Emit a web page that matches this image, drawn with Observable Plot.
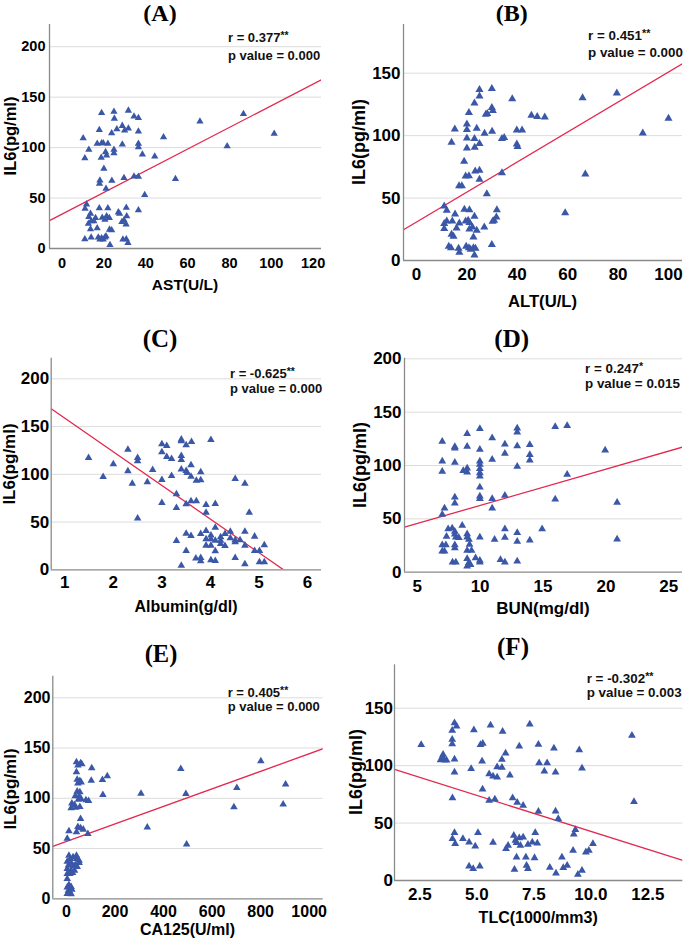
<!DOCTYPE html>
<html><head><meta charset="utf-8">
<script src="https://cdn.jsdelivr.net/npm/d3@7"></script>
<script src="https://cdn.jsdelivr.net/npm/@observablehq/plot@0.6"></script>
<style>
body{margin:0;background:#fff;}
#root{position:relative;width:685px;height:941px;overflow:hidden;font-family:"Liberation Sans",Arial,sans-serif;color:#000;}
.title{position:absolute;font-family:"Liberation Serif","Times New Roman",serif;font-weight:bold;transform:translate(-50%,-50%);white-space:nowrap;line-height:1;}
.xlab{position:absolute;font-weight:bold;transform:translate(-50%,-50%);white-space:nowrap;line-height:1;}
.ylab{position:absolute;font-weight:bold;transform:translate(-50%,-50%) rotate(-90deg);white-space:nowrap;line-height:1;}
.ann{position:absolute;font-weight:bold;transform:translateY(-50%);white-space:nowrap;line-height:1;color:#111;}
.st{font-size:0.8em;vertical-align:0.25em;}
</style></head>
<body><div id="root"></div>
<script>
// ---- data ----
const astPoints = [[18.9,134.4],[24.8,135.7],[31.7,136.7],[34.4,130.8],[36.5,129.5],[25,128.8],[28.8,121.6],[26.2,118.3],[31.7,119],[17.8,117.6],[29.9,117],[23.7,114.3],[36.5,116],[10.1,109.4],[16.8,103.8],[18.9,104.4],[21.9,103.8],[19.7,104.4],[28.8,103.1],[36.5,103.8],[36.5,100.5],[12.8,97.9],[24.8,97.9],[24.8,94.6],[20.8,95.6],[38.4,93.2],[21.3,92.3],[18.7,90],[10.9,89.6],[44.3,91.3],[20,79.1],[18.1,67.5],[17.9,64.3],[23.8,67.2],[29.6,69.9],[34.4,71.5],[36.5,71.2],[21,59.3],[39.5,53],[48.5,110.4],[54.2,68.9],[65.9,125.9],[78.9,101.5],[86.7,133.4],[101.4,113.7],[11.7,43.8],[11,39.5],[13.6,34.6],[17.8,39.9],[21.9,39.9],[30.7,40.5],[26.9,35.9],[27.5,34.6],[12.8,31.3],[16,30.3],[19.2,30.6],[21.3,32],[22.6,30.3],[20.5,28.7],[30.9,32],[29.6,28],[13.9,27],[15.2,27],[28.6,26.4],[30.6,24],[12.6,24.7],[36.5,37.9],[16.8,20.1],[13.6,19.1],[22.7,18.8],[23.7,18.1],[10.9,9.2],[13.9,10.9],[17.3,10.9],[18.1,8.9],[19.7,8.9],[20.5,10.9],[21,12.2],[29.1,8.9],[30.7,9.2],[31.5,5.6],[22.9,3.6],[18.9,10.2]];
const altPoints = [[29.9,137.6],[25,136.8],[25,131.7],[23,126],[38,129.5],[65.9,130.3],[79.5,134.1],[29.9,122.3],[30.3,119.9],[27.5,117],[28.1,117.5],[20.8,118.3],[45.6,116.2],[47.9,115.1],[50.9,114.8],[100,113.8],[20,109.2],[15.2,105.2],[20,104.7],[23.9,105.8],[30,103.4],[27,101.8],[39.8,104.4],[41.9,104.4],[89.8,102],[33.9,97.5],[34.8,98.3],[20,98],[23,97.5],[25,93.5],[13.9,94.6],[39.8,93.2],[40.1,91.1],[20,90],[23.1,90.5],[18.9,79.3],[19.5,67.6],[20.8,67.8],[23.3,71.6],[25,72.1],[33.9,70.2],[67,69.2],[25,64.9],[16.9,59.8],[18,59.8],[27.9,53.4],[11,43.5],[12,40.1],[19,40.9],[21,40.6],[31.9,40.6],[59,38.2],[15.3,37.1],[23,35.3],[31.7,34.7],[30.8,32.1],[30.2,31.3],[12,31.5],[14.2,31.5],[19.5,31.5],[20.5,32.1],[11,29.4],[17,29.9],[21,30.2],[22.2,26.7],[26.9,26.7],[11,25.4],[15.9,25.9],[21,25.1],[23.9,24],[13.9,20.8],[14.7,19.2],[22.6,18.7],[12.8,11.2],[13.7,10.1],[16.7,9.6],[17,6.4],[19.7,11.2],[20.8,10.1],[21.5,8.8],[22.6,10.1],[23.4,9.6],[23,4.3],[29.9,12.6]];
const albuminPoints = [[1.49,117.3],[1.79,97.4],[2.0,110.6],[2.30,126],[2.30,103.3],[2.50,117.3],[2.50,113.8],[2.39,90.4],[2.70,91.8],[2.81,104.7],[2.50,53.8],[3.0,131.6],[3.10,129.8],[3.0,123.2],[3.10,118.3],[3.20,116.2],[3.0,94.2],[3.20,98.4],[3.0,70.2],[3.30,79.2],[3.30,64.9],[3.30,30.4],[3.40,136.5],[3.40,134.7],[3.61,134],[3.50,130.5],[4.01,136.1],[3.40,119.4],[3.40,115.2],[3.40,105.1],[3.50,103.7],[3.52,101.6],[3.60,109.6],[3.80,102.3],[3.60,97.7],[3.71,93.5],[3.80,93.9],[3.60,71.9],[3.71,71.9],[3.50,68.8],[3.91,68.1],[4.10,69.1],[3.91,60],[4.51,95.3],[4.71,90.4],[4.80,60],[3.50,38],[3.60,35.6],[3.50,19.9],[3.40,4.5],[3.70,11.9],[3.80,12.6],[3.80,9.1],[4.01,10.1],[4.10,9.4],[3.91,40.8],[4.10,44.3],[4.01,36],[4.01,32.1],[3.91,32.1],[3.91,25.5],[4.01,25.5],[4.10,30.7],[4.21,30.7],[4.21,34.2],[4.10,19.5],[4.30,25.1],[4.30,37.7],[4.41,40.1],[4.41,33.2],[4.51,29],[4.51,31.1],[4.61,31.1],[4.71,40.1],[4.71,25.5],[4.51,12.6],[4.71,5.9],[4.91,34.9],[4.91,19.9],[5.01,19.9],[5.11,25.8],[5.01,8.0],[5.11,8.0],[4.21,27.2],[3.80,37.7]];
const bunPoints = [[6.99,122.5],[6.99,104.1],[6.99,94.4],[7.99,117.5],[7.99,116.3],[7.99,102.8],[8.97,129.7],[8.97,117.8],[8.66,95],[8.97,97.5],[8.97,93.8],[9.98,134.4],[9.98,115],[9.98,104.1],[9.98,100.9],[9.98,96.9],[9.98,93.1],[9.98,90],[9.98,79.7],[9.98,71.3],[9.98,68.8],[10.96,125.9],[10.96,105.6],[10.96,68.8],[10.96,60],[11.97,120],[11.97,111.3],[11.97,71.9],[12.95,135],[12.95,131.3],[12.95,118.4],[12.95,99.1],[13.95,119.4],[13.95,110],[13.95,105],[15.97,136.3],[16.92,137.2],[16.92,91.6],[15.97,68.4],[19.94,114.4],[20.89,65.3],[20.89,30.9],[14.93,40.6],[13.95,30],[12.95,36.9],[12.95,28.8],[12.95,10.3],[11.97,40.6],[11.97,32.5],[11.97,9.4],[11.62,11.6],[11.15,30.6],[9.98,32.8],[9.98,10.9],[9.64,13.4],[9.98,9.4],[6.99,54],[7.17,60],[7.99,70.3],[7.99,64.7],[7.46,40.6],[7.78,41.3],[7.99,38.1],[7.99,35.6],[8.07,32.8],[8.31,32.2],[8.58,43.8],[8.97,35.9],[8.97,32.8],[9.11,30.6],[7.33,33.4],[6.99,25.6],[7.28,25.6],[7.99,25.6],[7.99,22.8],[6.99,19.7],[7.17,19.7],[9.16,25.9],[8.97,20.3],[9.32,20.3],[7.81,9.4],[8.07,9.4],[8.97,12.5],[8.97,5.6],[9.24,6.9],[9.11,8.8]];
const ca125Points = [[41,136],[58,135],[47,132.7],[63,134],[41,126],[44,118.7],[55,117.4],[47,114.8],[60,116],[44,106.8],[55,106.1],[36,102.2],[52,102.2],[49,98.8],[60,99.5],[22,94.9],[33,93.5],[19,90.2],[38,90.9],[55,91.5],[80,98.2],[91,97.5],[104,130],[102,117.7],[148,118.4],[168,122],[150,103.5],[58,79.6],[47,71.6],[58,70.3],[69,69],[41,66.3],[88,64.7],[10,67.3],[3,60],[307,104.8],[333,71],[471,129.4],[492,104.5],[495,54.1],[690,91.2],[702,110.4],[801,137],[893,93.9],[903,113.8],[10,43.1],[16,39.8],[27,41.5],[41,39.8],[3,37.1],[19,35.8],[52,38.1],[52,35.8],[8,33.2],[27,32.5],[44,31.8],[3,29.9],[19,28.2],[33,28.2],[3,24.9],[14,24.9],[25,25.9],[3,19.9],[10,13.9],[19,11.9],[3,11.3],[8,8.3],[22,9.3],[14,6.6],[3,5],[19,4.6],[36,33.8],[41,43.1]];
const tlcPoints = [[2.56,118.1],[3.52,109.7],[3.41,105],[3.58,105],[3.48,107.3],[3.67,104.7],[4.02,137.2],[4.11,134.3],[3.92,130.5],[3.92,122.7],[3.92,118.9],[4.02,105.6],[4.02,94.3],[3.93,71.9],[4.87,131.1],[5.16,118.1],[5.26,119.2],[5.23,103.9],[4.75,97.2],[5.25,79.5],[5.60,135.2],[5.54,92.8],[5.71,90.8],[5.89,89.9],[5.89,98.9],[6.10,98.3],[6.10,105.3],[6.13,129.7],[6.26,110.8],[6.45,91.7],[5.54,69.6],[5.79,70.8],[6.86,116.9],[7.32,136.1],[7.70,118.4],[7.73,102.4],[8.08,102.4],[7.96,95.2],[8.38,115.2],[8.45,94.3],[9.49,113.7],[9.61,97.8],[11.80,126.2],[11.89,68.5],[6.57,71.9],[6.77,67.9],[7.03,65.3],[7.70,60.1],[8.45,60.3],[8.57,53.7],[3.93,36.3],[4.02,41.5],[4.05,31.9],[4.39,36.3],[4.66,33.4],[4.93,29.9],[5.05,41.5],[5.71,33.1],[4.66,12.5],[4.84,10.2],[5.13,12.5],[6.28,27.6],[6.37,30.5],[6.62,39.2],[6.69,34.8],[6.74,32.8],[6.86,37.1],[6.91,30.5],[7.03,37.7],[6.74,20.3],[6.65,9.6],[7.15,20.3],[7.18,13.1],[7.24,10.2],[7.24,31.3],[7.43,33.4],[7.56,41.5],[7.65,32.5],[7.53,19.7],[8.20,11.3],[8.47,6.4],[8.73,20.3],[8.79,11],[8.96,13.1],[9.22,26.1],[9.25,40.3],[9.32,44.1],[9.43,5.2],[9.61,8.7],[9.78,24.7],[9.91,26.1],[10.09,31.9]];

const xTicksA = [0,20,40,60,80,100,120];
const xTicksB = [0,20,40,60,80,100];
const xTicksC = [1,2,3,4,5,6];
const xTicksD = [5,10,15,20,25];
const xTicksE = [0,200,400,600,800,1000];
const xTicksF = [2.5,5,7.5,10,12.5];
const yTicks200 = [0,50,100,150,200];
const yTicks150 = [0,50,100,150];

const panelTitles = ["(A)","(B)","(C)","(D)","(E)","(F)"];
const xLabels = ["AST(U/L)","ALT(U/L)","Albumin(g/dl)","BUN(mg/dl)","CA125(U/ml)","TLC(1000/mm3)"];
const yLabel = "IL6(pg/ml)";
const rValues = ["0.377","0.451","-0.625","0.247","0.405","-0.302"];
const rStars = ["**","**","**","*","**","**"];
const pValues = ["0.000","0.000","0.000","0.015","0.000","0.003"];
const fitIntercept = [34.1,30.8,194.0,28.6,57.0,105.4];
const fitSlope = [1.074,1.2012,-35.23,3.398,0.0873,-6.27];

const pointSets = [astPoints, altPoints, albuminPoints, bunPoints, ca125Points, tlcPoints];
const xTickSets = [xTicksA, xTicksB, xTicksC, xTicksD, xTicksE, xTicksF];
const yTickSets = [yTicks200, yTicks150, yTicks200, yTicks200, yTicks200, yTicks150];

// ---- layout ----
const layout = [
 {left:0, top:0, w:335, h:300, ml:49, mr:14, mt:24, mb:52, xd:[-6,124], yd:[0,222], fs:14.5, xpad:8.8, ypad:4, r:2.7, title:[160,13,24], xlab:[185,285,15.5], ylab:[10,136,16.5], ann:[228,37.3,55,13]},
 {left:340, top:0, w:345, h:315, ml:63, mr:3, mt:24, mb:55, xd:[-5.16,105.56], yd:[0,189], fs:17, xpad:7.9, ypad:3, r:3.0, title:[511.7,13,24], xlab:[542.5,301.7,16.7], ylab:[359,142,18], ann:[588,35,53.3,13.4]},
 {left:0, top:315, w:335, h:305, ml:50.7, mr:14, mt:42.7, mb:50.7, xd:[0.72,6.288], yd:[0,221.6], fs:17, xpad:6.3, ypad:2, r:2.8, title:[160,337.5,25], xlab:[186,606.7,16], ylab:[8.5,463.5,17], ann:[230,373.3,387.7,13]},
 {left:340, top:315, w:345, h:305, ml:64, mr:3, mt:42.7, mb:48.3, xd:[3.99,26.09], yd:[0,200.6], fs:17, xpad:7.9, ypad:3, r:2.9, title:[511.7,337.5,25], xlab:[543,608.3,17], ylab:[360,464.7,18], ann:[585,368.3,384.3,13.4]},
 {left:0, top:625, w:335, h:316, ml:52.3, mr:12.3, mt:50.7, mb:42.7, xd:[-56.5,1058], yd:[0,221.5], fs:16, xpad:6.7, ypad:2.3, r:2.8, title:[161,654,24.5], xlab:[187.5,930,16], ylab:[10,789,17], ann:[227.7,691.7,706,13]},
 {left:340, top:625, w:345, h:316, ml:54, mr:2.7, mt:39.3, mb:61, xd:[1.39,14.03], yd:[0,187.8], fs:17, xpad:7.2, ypad:1.5, r:2.9, title:[513,646,25], xlab:[538.2,918.3,16], ylab:[355.5,772,18], ann:[586.7,677.7,693.3,13.4]}
];

const root = document.getElementById("root");
function addDiv(cls, html, x, y, fs) {
  const d = document.createElement("div");
  d.className = cls;
  d.innerHTML = html;
  d.style.left = x + "px";
  d.style.top = y + "px";
  d.style.fontSize = fs + "px";
  root.appendChild(d);
}

layout.forEach((L, i) => {
  const pts = pointSets[i];
  const b0 = fitIntercept[i], b1 = fitSlope[i];
  const fit = L.xd.map(x => ({x, y: b0 + b1 * x}));
  const svg = Plot.plot({
    width: L.w, height: L.h,
    marginLeft: L.ml, marginRight: L.mr, marginTop: L.mt, marginBottom: L.mb,
    style: {fontFamily: "'Liberation Sans', Arial, sans-serif", fontWeight: "bold", fontSize: L.fs + "px", color: "#000", background: "transparent", overflow: "visible"},
    x: {type: "linear", domain: L.xd},
    y: {type: "linear", domain: L.yd},
    marks: [
      Plot.gridY(yTickSets[i].filter(t => t > 0), {stroke: "#dcdcdc", strokeOpacity: 1, strokeWidth: 1}),
      Plot.line(fit, {x: "x", y: "y", stroke: "#e3294f", strokeWidth: 1.3, clip: true}),
      Plot.dot(pts, {x: d => d[0], y: d => d[1], symbol: "triangle", r: L.r, fill: "#3b57a7", stroke: "none"}),
      Plot.ruleY([L.yd[0]], {stroke: "#8a8a8a", strokeWidth: 1.3}),
      Plot.ruleX([L.xd[0]], {stroke: "#8a8a8a", strokeWidth: 1.3}),
      Plot.axisX(xTickSets[i], {tickSize: 0, tickPadding: L.xpad, label: null, tickFormat: i === 5 ? d3.format(".1f") : d3.format("d")}),
      Plot.axisY(yTickSets[i], {tickSize: 0, tickPadding: L.ypad, label: null, tickFormat: d3.format("d")})
    ]
  });
  svg.style.position = "absolute";
  svg.style.left = L.left + "px";
  svg.style.top = L.top + "px";
  root.appendChild(svg);

  addDiv("title", panelTitles[i], L.title[0], L.title[1], L.title[2]);
  addDiv("xlab", xLabels[i], L.xlab[0], L.xlab[1], L.xlab[2]);
  addDiv("ylab", yLabel, L.ylab[0], L.ylab[1], L.ylab[2]);
  addDiv("ann", "r = " + rValues[i] + '<span class="st">' + rStars[i] + "</span>", L.ann[0], L.ann[1], L.ann[3]);
  addDiv("ann", "p value = " + pValues[i], L.ann[0], L.ann[2], L.ann[3]);
});
</script>
</body></html>
